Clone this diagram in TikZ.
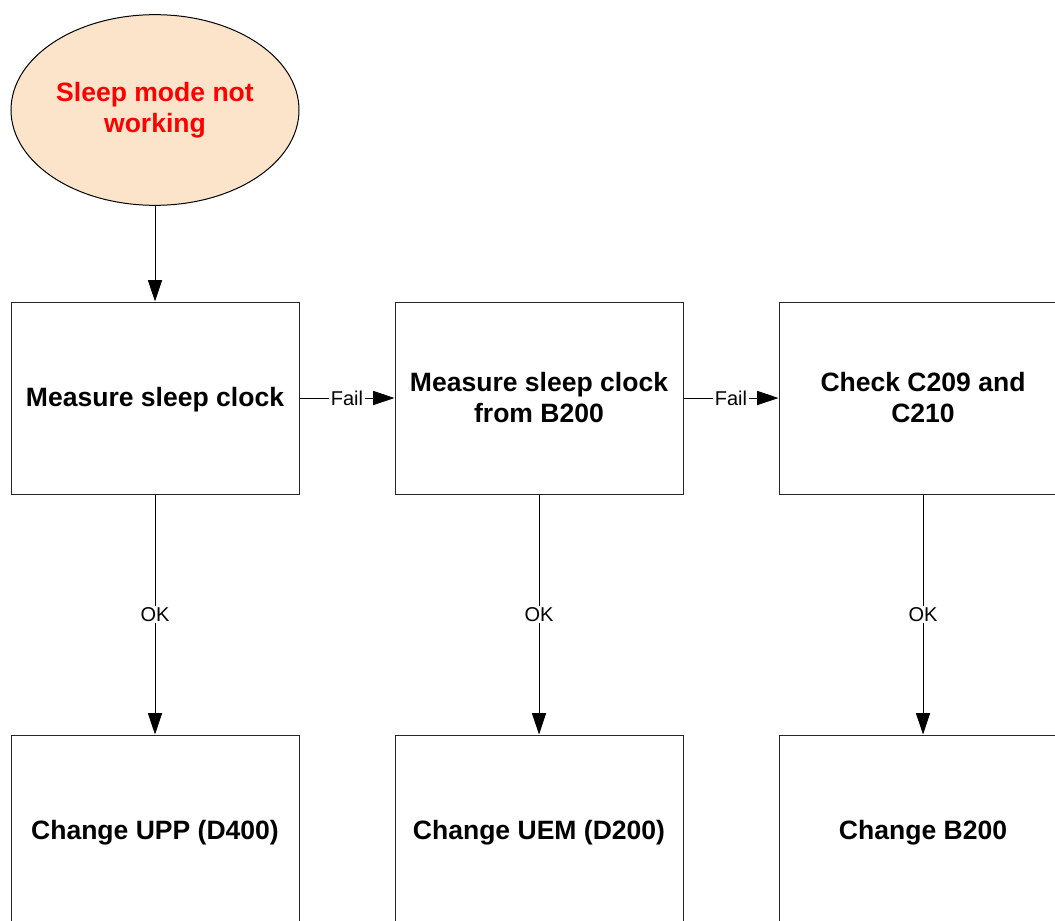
\documentclass[tikz,border=0pt]{standalone}
\usepackage{fontspec}
\setmainfont{Liberation Sans}
\usetikzlibrary{arrows.meta,shapes.geometric}
\definecolor{peach}{HTML}{FCE4CB}
\definecolor{alarm}{HTML}{FF0000}
\tikzset{
  stepbox/.style={draw=black!85, line width=0.75pt, rectangle, minimum width=216pt, minimum height=144pt, inner sep=0pt, align=center, text depth=1pt, font=\fontsize{19.9}{23}\selectfont\bfseries},
  startnode/.style={draw=black, line width=0.75pt, ellipse, fill=peach, minimum width=216pt, minimum height=143pt, inner sep=0pt, align=center, text=alarm, font=\fontsize{19.9}{23}\selectfont\bfseries},
  conn/.style={draw=black, line width=0.75pt, -{Triangle[length=16pt,width=10.5pt]}},
  lbl/.style={fill=white, inner xsep=1.5pt, inner ysep=1pt, font=\fontsize{15}{18}\selectfont}
}
\begin{document}
\begin{tikzpicture}[x=0.75pt,y=-0.75pt]
\useasboundingbox (0,0) rectangle (1055,920);
\clip (0,0) rectangle (1055,920);
\node[startnode] (start) at (155,110) {Sleep mode not\\working};
\node[stepbox] (m1) at (155,398) {Measure sleep clock};
\node[stepbox] (m2) at (539,398) {Measure sleep clock\\from B200};
\node[stepbox] (m3) at (923,398) {Check C209 and\\C210};
\node[stepbox] (c1) at (155,831) {Change UPP (D400)};
\node[stepbox] (c2) at (539,831) {Change UEM (D200)};
\node[stepbox] (c3) at (923,831) {Change B200};
\draw[conn] (start) -- (m1);
\draw[conn] (m1) -- node[lbl] {Fail} (m2);
\draw[conn] (m2) -- node[lbl] {Fail} (m3);
\draw[conn] (m1) -- node[lbl] {OK} (c1);
\draw[conn] (m2) -- node[lbl] {OK} (c2);
\draw[conn] (m3) -- node[lbl] {OK} (c3);
\end{tikzpicture}
\end{document}
